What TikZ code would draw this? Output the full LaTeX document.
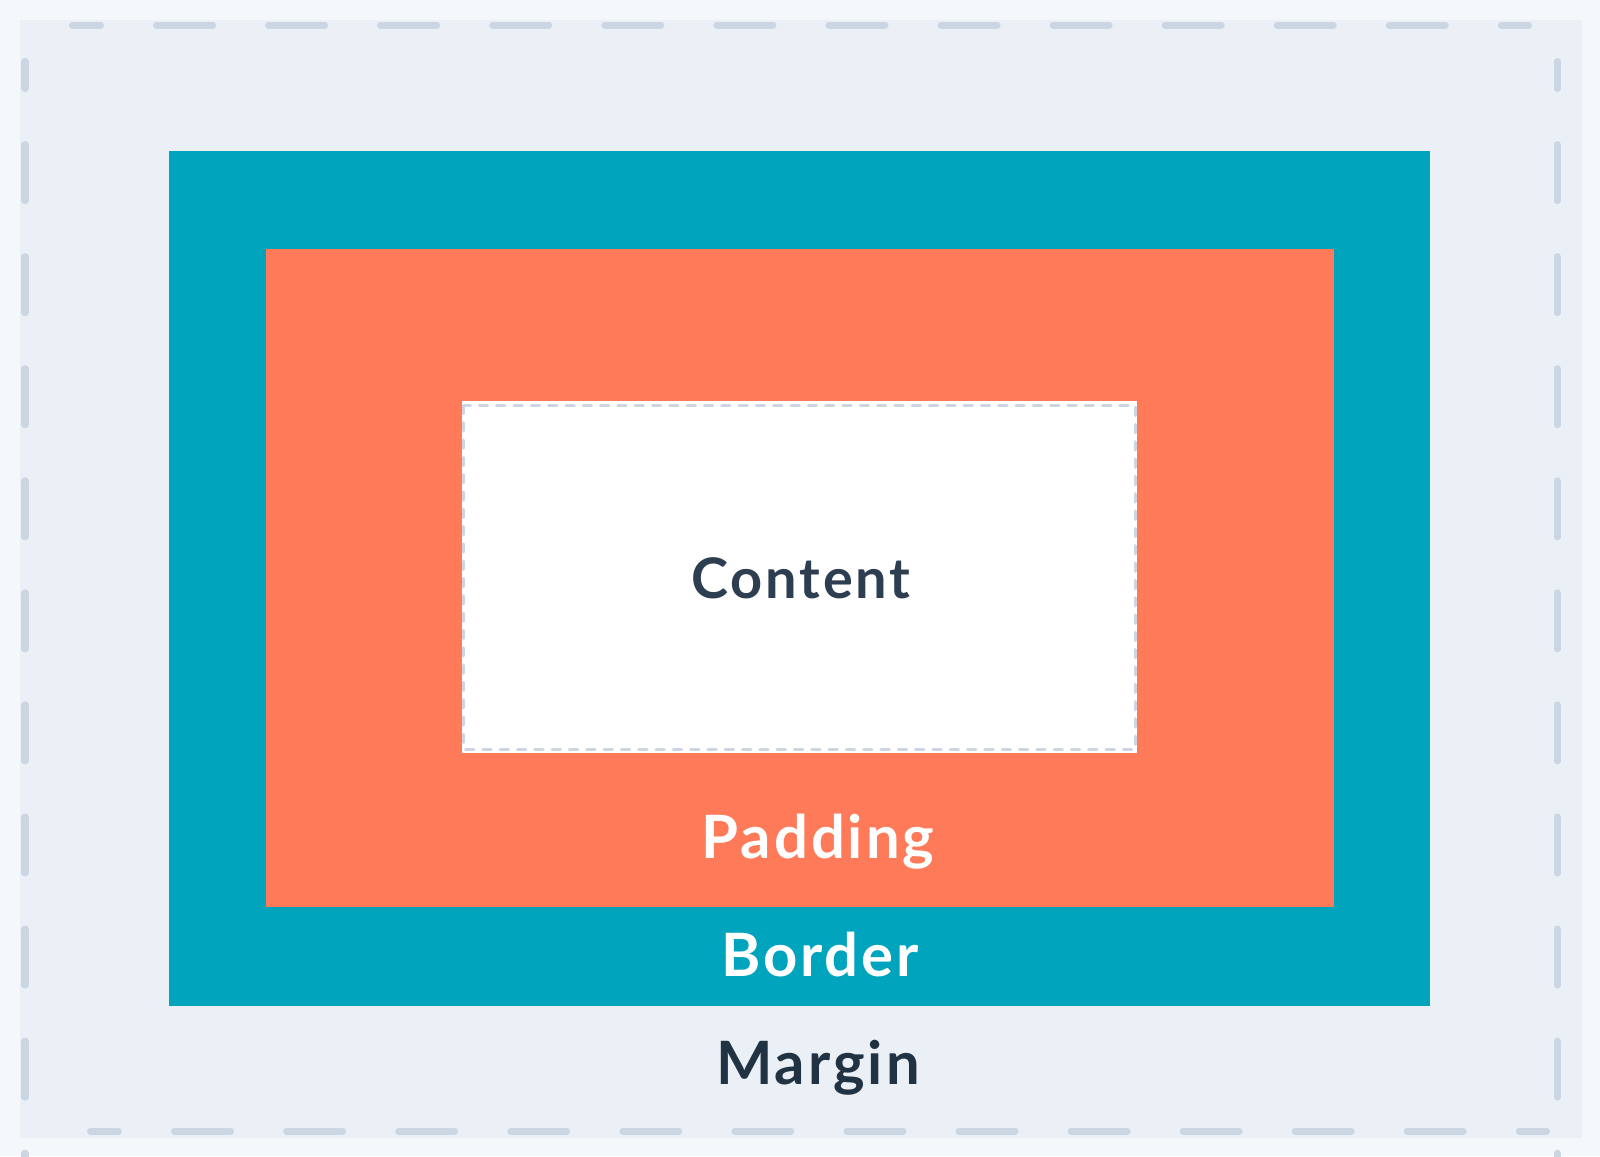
\documentclass[tikz,border=0pt]{standalone}
\usepackage{fontspec}
\newfontfamily\boxfont{Lato}[LetterSpace=5]
\definecolor{pagebg}{HTML}{F5F8FA}
\definecolor{marginbg}{HTML}{EAF0F6}
\definecolor{guidegray}{HTML}{CBD6E2}
\definecolor{bordercol}{HTML}{00A4BD}
\definecolor{paddingcol}{HTML}{FF7A59}
\definecolor{contenttext}{HTML}{2D3E50}
\definecolor{margintext}{HTML}{213343}
\begin{document}
\begin{tikzpicture}[x=0.01cm, y=-0.01cm,
    guide/.style={draw=guidegray, line width=0.07cm, line cap=round,
        dash pattern=on 0.56cm off 0.56cm},
    innerguide/.style={draw=guidegray, line width=0.035cm, line cap=round,
        dash pattern=on 0.08cm off 0.093cm},
    every node/.style={inner sep=0pt, anchor=base},
    boxlabel/.style={font=\boxfont\bfseries\fontsize{17pt}{20pt}\selectfont}]
    \useasboundingbox (0,0) rectangle (1600,1156);
    \fill[pagebg] (0,0) rectangle (1600,1156);
    \fill[marginbg] (20,20) rectangle (1582,1138);
    \draw[guide, dash phase=0.28cm] (72.5,25) -- (1528.5,25);
    \draw[guide, dash phase=0.28cm] (90.5,1131) -- (1546.5,1131);
    \draw[guide, dash phase=0.29cm] (25,61.5) -- (25,1250);
    \draw[guide, dash phase=0.29cm] (1557,61.5) -- (1557,1250);
    \fill[bordercol] (169,151) rectangle (1430,1006);
    \fill[paddingcol] (266,249) rectangle (1334,907);
    \fill[white] (462,401) rectangle (1137,753);
    \draw[innerguide] (463.5,405.5) rectangle (1135.5,749.5);
    \node[boxlabel, text=contenttext, font=\boxfont\bfseries\fontsize{15.9pt}{19pt}\selectfont] (content) at (801,598) {Content};
    \node[boxlabel, text=white] (padding) at (818,858) {Padding};
    \node[boxlabel, text=white] (border) at (820,976) {Border};
    \node[boxlabel, text=margintext] (margin) at (818,1084) {Margin};
\end{tikzpicture}
\end{document}
